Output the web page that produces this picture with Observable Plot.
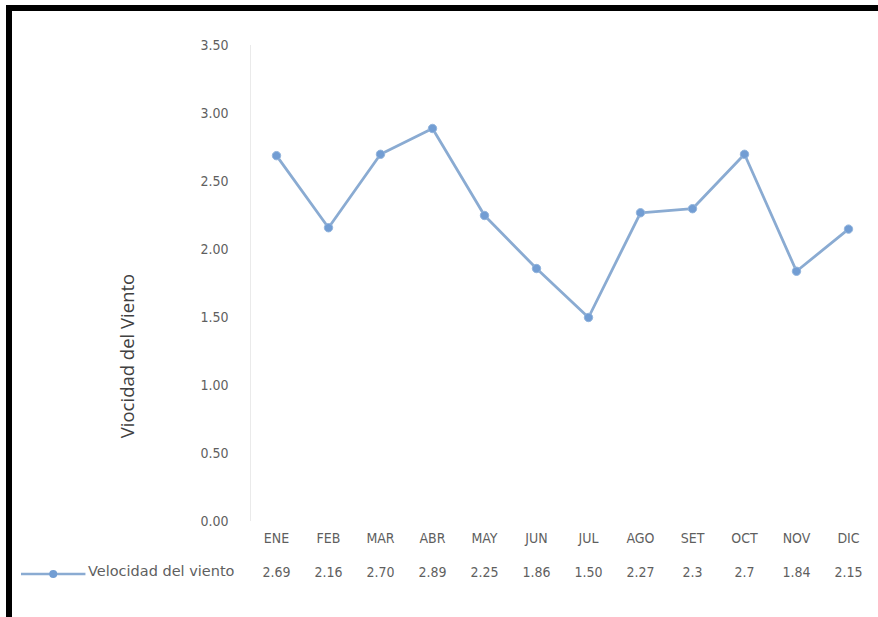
<!DOCTYPE html>
<html>
<head>
<meta charset="utf-8">
<script src="https://cdn.jsdelivr.net/npm/d3@7"></script>
<script src="https://cdn.jsdelivr.net/npm/@observablehq/plot@0.6"></script>
<style>
  html, body { margin: 0; padding: 0; background: #fff; }
  #wrap { position: relative; width: 878px; height: 617px; overflow: hidden; }
  #frame { position: absolute; left: 6px; top: 5px; width: 900px; height: 700px;
           border-top: 6px solid #000; border-left: 6px solid #000; pointer-events: none; }
  svg { font-family: "Liberation Sans Narrow", "DejaVu Sans Condensed", sans-serif; }
</style>
</head>
<body>
<div id="wrap"><div id="frame"></div></div>
<script>
const meses = ["ENE","FEB","MAR","ABR","MAY","JUN","JUL","AGO","SET","OCT","NOV","DIC"];
const velocidad = [2.69, 2.16, 2.70, 2.89, 2.25, 1.86, 1.50, 2.27, 2.3, 2.7, 1.84, 2.15];
const etiquetasValor = ["2.69","2.16","2.70","2.89","2.25","1.86","1.50","2.27","2.3","2.7","1.84","2.15"];
const yTicks = [0, 0.5, 1, 1.5, 2, 2.5, 3, 3.5];
const serieNombre = "Velocidad del viento";
const yTitulo = "Viocidad del Viento";

const data = meses.map((m, i) => ({mes: m, v: velocidad[i], lab: etiquetasValor[i]}));

const lineColor = "#8aabd2";
const dotColor = "#729dd3";
const textColor = "#5f5f5f";

const chart = Plot.plot({
  width: 878,
  height: 617,
  marginTop: 45,
  marginBottom: 96,
  marginLeft: 246,
  marginRight: 0,
  style: {fontSize: "14px", color: textColor, background: "transparent"},
  x: {type: "point", domain: meses, padding: 0.5, label: null},
  y: {domain: [0, 3.5], label: null},
  marks: [
    Plot.ruleX([meses[0]], {dx: -26, stroke: "#eaeaea", strokeWidth: 1, y1: 0, y2: 3.5}),
    Plot.axisY({ticks: yTicks, tickFormat: d3.format(".2f"), tickSize: 0, tickPadding: 18, fill: textColor, fontSize: 14, label: null}),
    Plot.axisX({tickSize: 0, tickPadding: 12, fill: textColor, fontSize: 14, label: null}),
    Plot.text(data, {x: "mes", text: "lab", frameAnchor: "bottom", dy: 55, fill: textColor, fontSize: 14}),
    Plot.text([serieNombre], {text: d => d, frameAnchor: "bottom-left", dx: -12, dy: 54, textAnchor: "end", fill: textColor, fontSize: 14.5, fontFamily: "DejaVu Sans, sans-serif"}),
    Plot.line(data, {x: "mes", y: "v", stroke: lineColor, strokeWidth: 2.8}),
    Plot.dot(data, {x: "mes", y: "v", r: 4.2, fill: dotColor, stroke: "#93b5dd", strokeWidth: 1})
  ]
});

const wrap = document.getElementById("wrap");
wrap.insertBefore(chart, wrap.firstChild);

const svg = d3.select(chart);
// legend marker (line + dot) left of series name
const textNode = svg.selectAll("text").filter(function() { return this.textContent === serieNombre; }).node();
const len = textNode ? textNode.getComputedTextLength() : 164;
const xEnd = 234 - len - 2;
const lg = svg.append("g");
lg.append("line").attr("x1", 21).attr("x2", xEnd).attr("y1", 574).attr("y2", 574)
  .attr("stroke", lineColor).attr("stroke-width", 2.5);
lg.append("circle").attr("cx", (21 + xEnd) / 2).attr("cy", 574).attr("r", 4).attr("fill", dotColor);

// y axis title
svg.append("text")
  .attr("transform", "translate(134,356) rotate(-90)")
  .attr("text-anchor", "middle")
  .attr("fill", "#404040")
  .style("font-family", "'Open Sans', 'Noto Sans', sans-serif")
  .style("font-size", "18.5px")
  .text(yTitulo);
</script>
</body>
</html>
